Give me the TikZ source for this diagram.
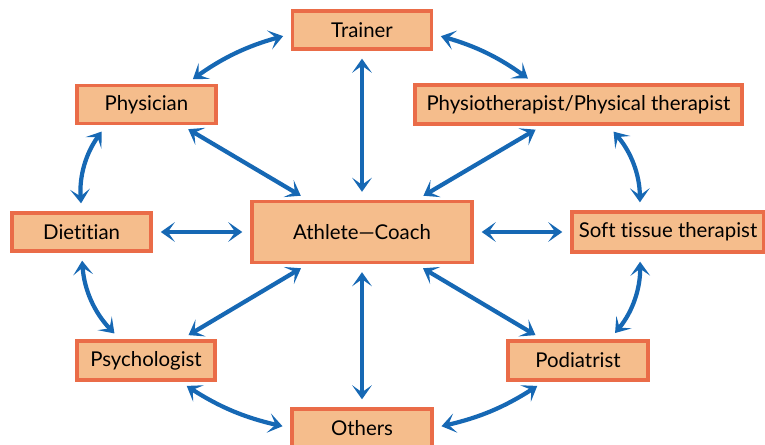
\documentclass[tikz,border=0pt]{standalone}
\usepackage{fontspec}
\setmainfont[Ligatures=NoCommon]{Lato}
\usetikzlibrary{arrows.meta}

\definecolor{boxfill}{RGB}{245,189,140}
\definecolor{boxline}{RGB}{234,108,72}
\definecolor{linkblue}{RGB}{22,104,180}

\begin{document}
\begin{tikzpicture}[
    role/.style={draw=boxline, fill=boxfill, line width=2.4pt, inner sep=0pt,
                 minimum width=3.475cm, minimum height=0.95cm,
                 font=\fontsize{14.5}{16}\selectfont},
    link/.style={linkblue, line width=3pt, shorten <=0.2cm, shorten >=0.2cm,
                 {Stealth[length=10pt,width=14pt,inset=5pt]}-{Stealth[length=10pt,width=14pt,inset=5pt]}}
  ]
    \useasboundingbox (0,0) rectangle (19.125,11.1);

    \node[role] (trainer) at (9.05,10.35) {Trainer};
    \node[role] (physician) at (3.66,8.49) {Physician};
    \node[role, minimum width=8.175cm, minimum height=0.975cm] (physio) at (14.46,8.49) {Physiotherapist/Physical therapist};
    \node[role] (dietitian) at (2.04,5.3) {Dietitian};
    \node[role, minimum width=5.5cm, minimum height=1.525cm] (athlete) at (9.05,5.3) {Athlete—Coach};
    \node[role, minimum width=4.8cm, minimum height=1cm] (soft) at (16.7,5.3) {Soft tissue therapist};
    \node[role, minimum width=3.45cm, minimum height=0.975cm] (psych) at (3.65,2.09) {Psychologist};
    \node[role, minimum width=3.5cm, minimum height=0.975cm] (podiatrist) at (14.45,2.09) {Podiatrist};
    \node[role, minimum width=3.5cm] (others) at (9.05,0.4) {Others};

    % from the centre
    \draw[link] (athlete) -- (trainer);
    \draw[link] (athlete) -- (physician);
    \draw[link] (athlete) -- (physio);
    \draw[link] (athlete) -- (dietitian);
    \draw[link] (athlete) -- (soft);
    \draw[link] (athlete) -- (psych);
    \draw[link] (athlete) -- (podiatrist);
    \draw[link] (athlete) -- (others);

    % round the outside
    \draw[link] ([xshift=1cm]physician.north) to[bend left=10] ([yshift=-0.1cm]trainer.west);
    \draw[link] ([yshift=-0.1cm]trainer.east) to[bend left=10] ([xshift=-1.1cm]physio.north);
    \draw[link] ([xshift=-1cm]physician.south) to[bend right=20] (dietitian.north);
    \draw[link] (dietitian.south) to[bend right=20] ([xshift=-0.65cm]psych.north);
    \draw[link] ([xshift=0.85cm]psych.south) to[bend right=10] (others.west);
    \draw[link] (others.east) to[bend right=10] ([xshift=-0.85cm]podiatrist.south);
    \draw[link] ([xshift=0.8cm]podiatrist.north) to[bend right=20] ([xshift=-0.7cm]soft.south);
    \draw[link] ([xshift=-0.7cm]soft.north) to[bend right=20] ([xshift=0.75cm]physio.south);
\end{tikzpicture}
\end{document}
